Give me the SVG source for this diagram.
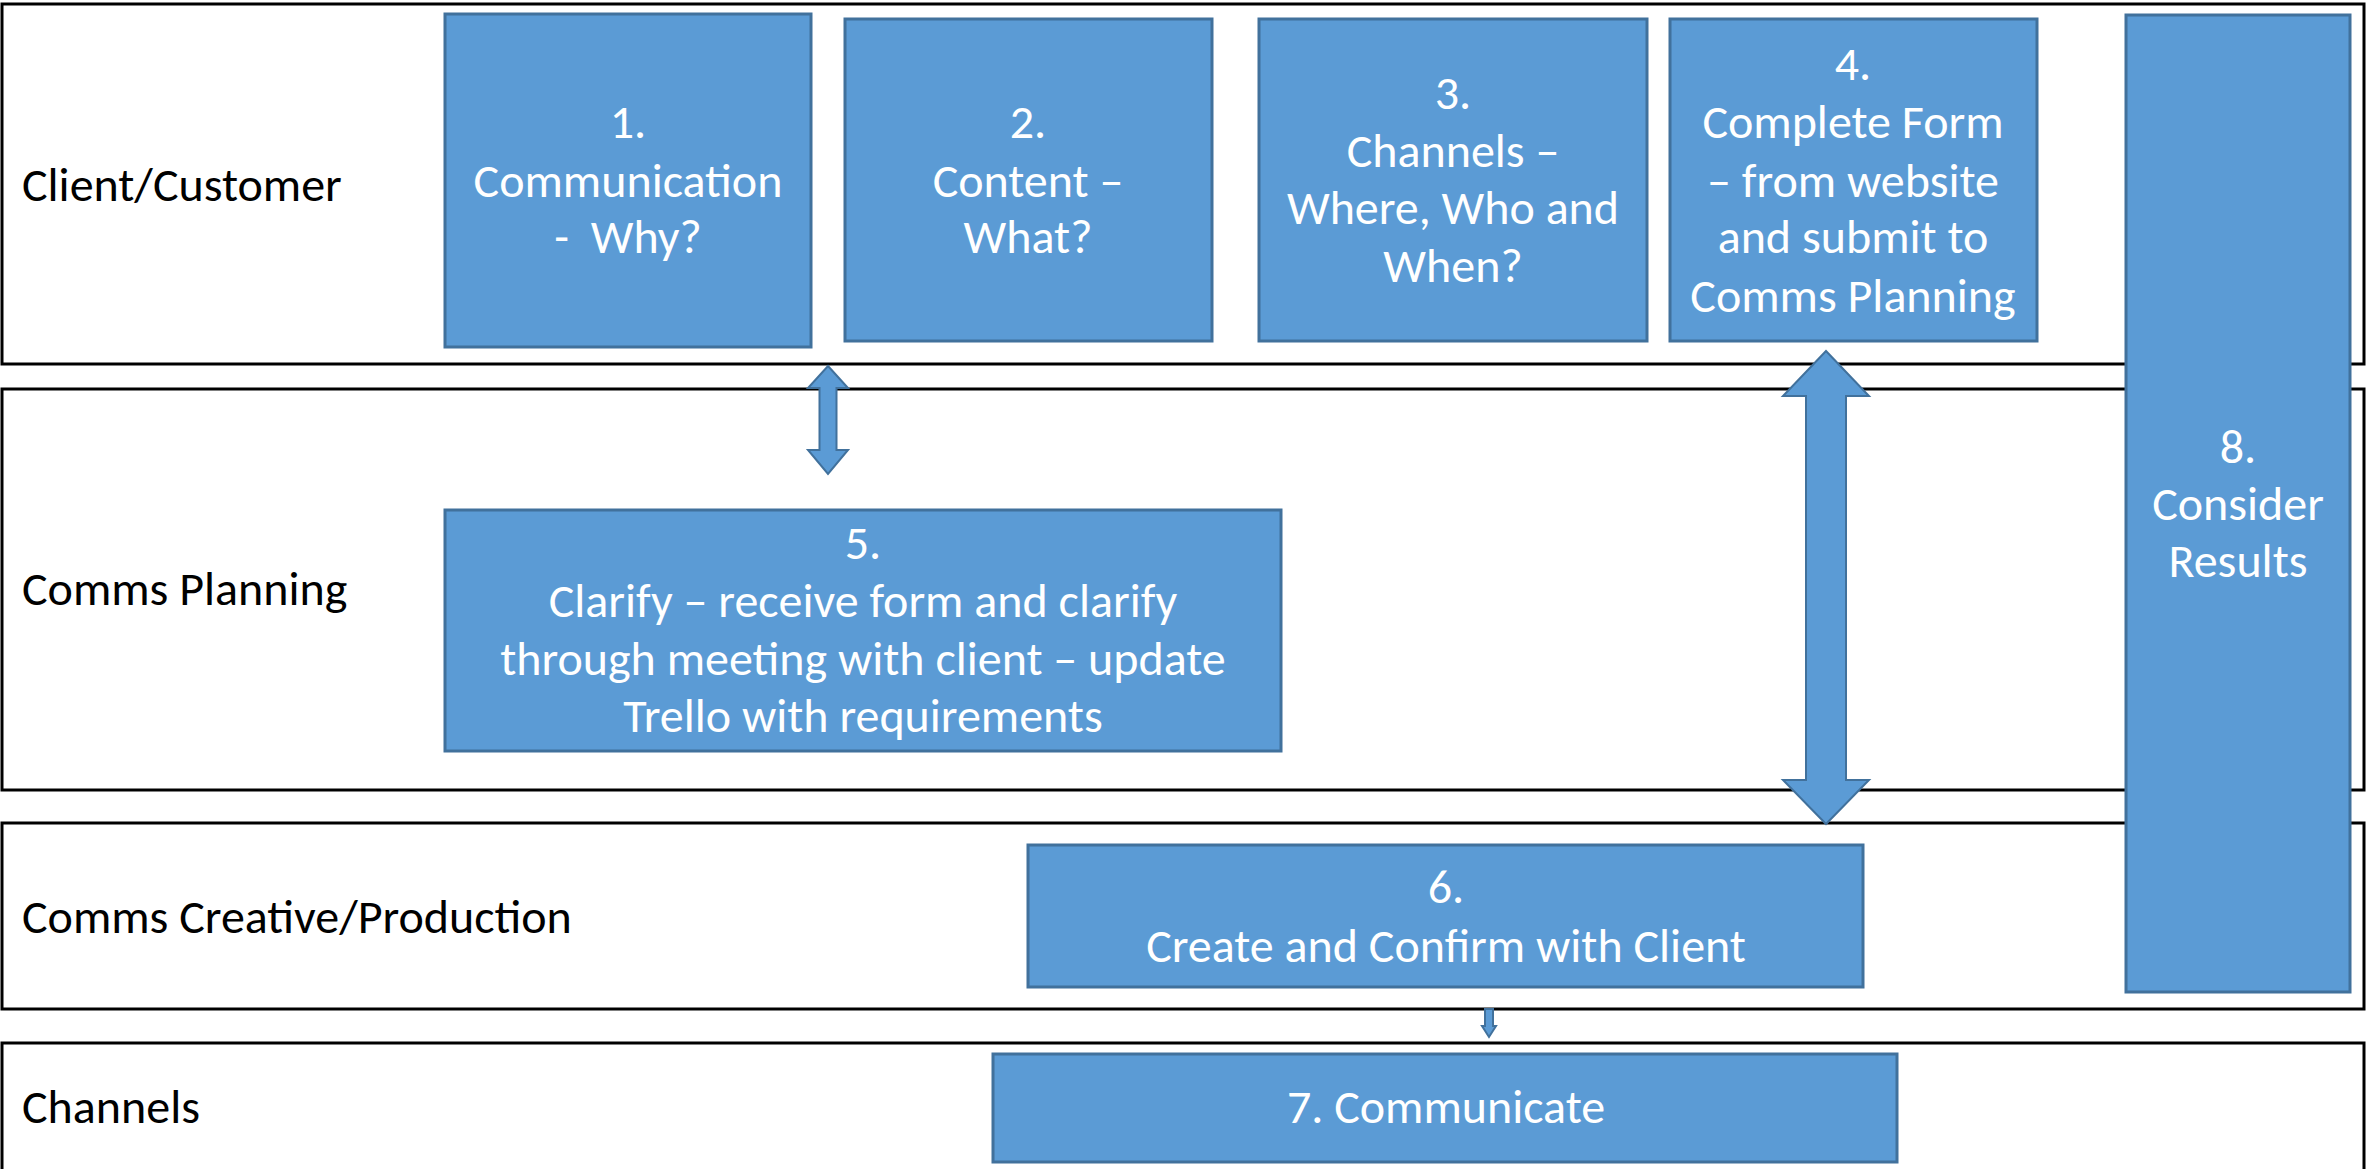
<svg xmlns="http://www.w3.org/2000/svg" width="2379" height="1169" viewBox="0 0 2379 1169">
<style>
.lane{fill:#fff;stroke:#000;stroke-width:3}
.box{fill:#5B9BD5;stroke:#41719C;stroke-width:3}
.arrow{fill:#5B9BD5;stroke:#41719C;stroke-width:2;stroke-linejoin:miter}
text{font-family:Carlito,"Liberation Sans",Arial,sans-serif;font-size:48px}
.lbl{fill:#000}
.t{fill:#fff;text-anchor:middle}
</style>
<rect width="2379" height="1169" fill="#fff"/>
<g id="lanes">
<g id="lane-client"><rect class="lane" x="2" y="4" width="2362" height="360"/><text class="lbl" x="22" y="201">Client/Customer</text></g>
<g id="lane-planning"><rect class="lane" x="2" y="389" width="2362" height="401"/><text class="lbl" x="22" y="605">Comms Planning</text></g>
<g id="lane-creative"><rect class="lane" x="2" y="823" width="2362" height="186"/><text class="lbl" x="22" y="933">Comms Creative/Production</text></g>
<g id="lane-channels"><rect class="lane" x="2" y="1043" width="2362" height="150"/><text class="lbl" x="22" y="1123">Channels</text></g>
</g>
<g id="node1"><rect class="box" x="445" y="14" width="366" height="333"/>
<text class="t" x="628" y="138">1.</text><text class="t" x="628" y="197">Communication</text><text class="t" x="628" y="253" xml:space="preserve">-  Why?</text></g>
<g id="node2"><rect class="box" x="845" y="19" width="367" height="322"/>
<text class="t" x="1028" y="138">2.</text><text class="t" x="1028" y="197">Content –</text><text class="t" x="1028" y="253">What?</text></g>
<g id="node3"><rect class="box" x="1259" y="19" width="388" height="322"/>
<text class="t" x="1453" y="109">3.</text><text class="t" x="1453" y="167">Channels –</text><text class="t" x="1453" y="224">Where, Who and</text><text class="t" x="1453" y="282">When?</text></g>
<g id="node4"><rect class="box" x="1670" y="19" width="367" height="322"/>
<text class="t" x="1853" y="80">4.</text><text class="t" x="1853" y="138">Complete Form</text><text class="t" x="1853" y="197">– from website</text><text class="t" x="1853" y="253">and submit to</text><text class="t" x="1853" y="312">Comms Planning</text></g>
<g id="node5"><rect class="box" x="445" y="510" width="836" height="241"/>
<text class="t" x="863" y="559">5.</text><text class="t" x="863" y="617">Clarify – receive form and clarify</text><text class="t" x="863" y="675">through meeting with client – update</text><text class="t" x="863" y="732">Trello with requirements</text></g>
<g id="node6"><rect class="box" x="1028" y="845" width="835" height="142"/>
<text class="t" x="1446" y="903">6.</text><text class="t" x="1446" y="962">Create and Confirm with Client</text></g>
<g id="node7"><rect class="box" x="993" y="1054" width="904" height="108"/>
<text class="t" x="1446" y="1123">7. Communicate</text></g>
<g id="node8"><rect class="box" x="2126" y="15" width="224" height="977"/>
<text class="t" x="2238" y="463">8.</text><text class="t" x="2238" y="520">Consider</text><text class="t" x="2238" y="577">Results</text></g>
<g id="connectors">
<polygon class="arrow" points="828,366 848,388 836.5,388 836.5,450 848,450 828,474 808,450 819.5,450 819.5,388 808,388"/>
<polygon class="arrow" points="1826,351 1869,396 1846,396 1846,780 1869,780 1826,824 1783,780 1806,780 1806,396 1783,396"/>
<polygon class="arrow" points="1485,1009 1493,1009 1493,1026 1496,1026 1489,1037 1482,1026 1485,1026"/>
</g>
</svg>
